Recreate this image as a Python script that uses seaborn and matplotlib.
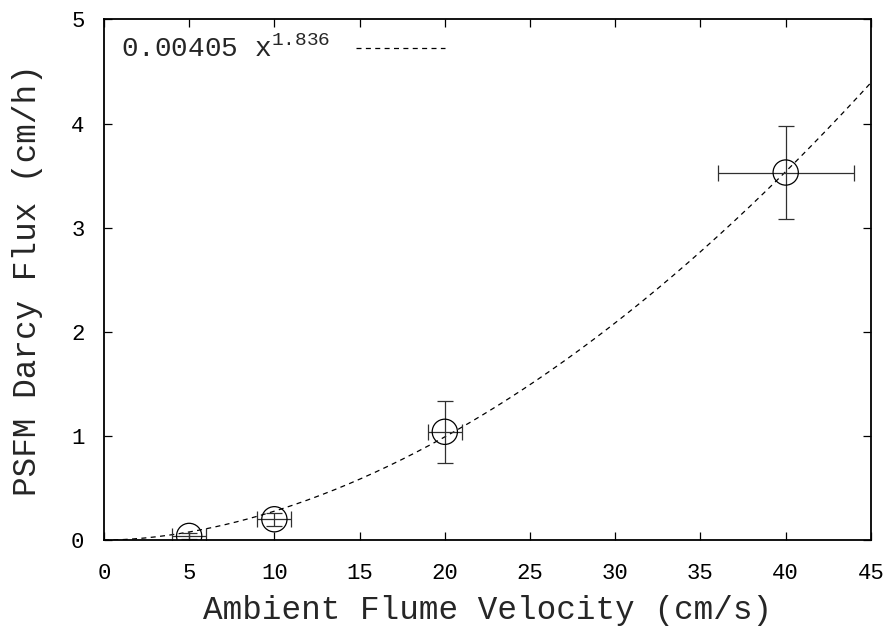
import numpy as np
import pandas as pd
import matplotlib
matplotlib.use("Agg")
import matplotlib.pyplot as plt
import seaborn as sns

# Measured PSFM Darcy flux versus ambient flume velocity
velocity = [5.0, 10.0, 20.0, 40.0]          # cm/s
velocity_err = [1.0, 1.0, 1.0, 4.0]         # cm/s
flux = [0.04, 0.20, 1.04, 3.53]             # cm/h
flux_err = [0.03, 0.06, 0.30, 0.45]         # cm/h

# Power-law fit: flux = coef * velocity ** expo
fit_coef = 0.00405
fit_expo = 1.836

x_ticks = [0, 5, 10, 15, 20, 25, 30, 35, 40, 45]
y_ticks = [0, 1, 2, 3, 4, 5]

sns.set_theme(style="ticks")
mono = "Liberation Mono"
plt.rcParams["font.family"] = [mono, "DejaVu Sans"]
plt.rcParams["mathtext.fontset"] = "custom"
plt.rcParams["mathtext.rm"] = mono
plt.rcParams["mathtext.it"] = mono
plt.rcParams["mathtext.bf"] = mono

fig = plt.figure(figsize=(8.96, 6.28), dpi=100)
ax = fig.add_axes([0.116, 0.140, 0.856, 0.829])

df = pd.DataFrame({"v": velocity, "q": flux})
xs = np.linspace(0, 45, 400)
fit_df = pd.DataFrame({"v": xs, "q": fit_coef * xs ** fit_expo})

fit_label = r"%s $\mathrm{x^{%s}}$" % (fit_coef, fit_expo)
sns.lineplot(data=fit_df, x="v", y="q", ax=ax, color="black", lw=0.9,
             label=fit_label)
ax.lines[-1].set_dashes((4, 3.5))

ax.errorbar(velocity, flux, xerr=velocity_err, yerr=flux_err, fmt="none",
            ecolor="#303030", elinewidth=0.9, capsize=5.5, capthick=0.9)
sns.scatterplot(data=df, x="v", y="q", ax=ax, marker="o", s=330,
                facecolor="none", edgecolor="black", linewidth=0.9, zorder=5)

ax.set_xlim(0, 45)
ax.set_ylim(0, 5)
ax.set_xticks(x_ticks)
ax.set_yticks(y_ticks)
ax.tick_params(direction="in", length=6, width=0.9, top=True, right=True,
               labelsize=16, colors="black")
ax.tick_params(axis="x", pad=16.5)
ax.tick_params(axis="y", pad=14)
for s in ax.spines.values():
    s.set_linewidth(1.3)
    s.set_color("black")
    s.set_visible(True)

ax.set_xlabel("Ambient Flume Velocity (cm/s)", fontsize=23.5, labelpad=8)
ax.set_ylabel("PSFM Darcy Flux (cm/h)", fontsize=23.5, labelpad=20)

leg = ax.legend(loc="upper left", markerfirst=False, frameon=False,
                fontsize=20, handlelength=3.2, borderaxespad=0.2,
                handletextpad=0.95)

fig.savefig("out.png", dpi=100, facecolor="white")
